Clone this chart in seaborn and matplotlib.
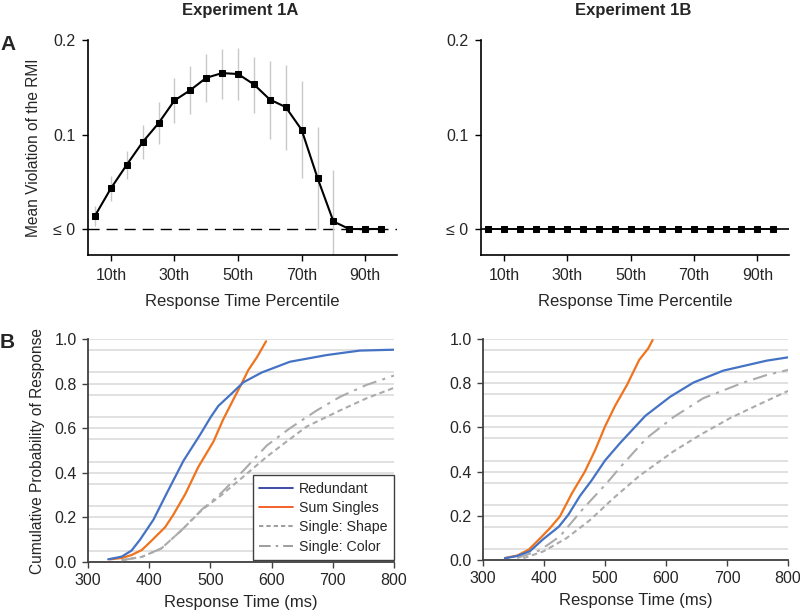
import numpy as np
import pandas as pd
import matplotlib
matplotlib.use("Agg")
import matplotlib.pyplot as plt
import seaborn as sns
from matplotlib.lines import Line2D

# ---------------- data ----------------
percentiles = [5, 10, 15, 20, 25, 30, 35, 40, 45, 50, 55, 60, 65, 70, 75, 80, 85, 90, 95]
rmi_1a = [0.014, 0.043, 0.068, 0.092, 0.112, 0.136, 0.147, 0.160, 0.165, 0.164,
          0.153, 0.137, 0.129, 0.105, 0.054, 0.008, 0.0, 0.0, 0.0]
rmi_1a_lo = [0.003, 0.030, 0.053, 0.074, 0.090, 0.112, 0.122, 0.134, 0.138, 0.136,
             0.123, 0.095, 0.084, 0.054, 0.0, -0.03, 0.0, 0.0, 0.0]
rmi_1a_hi = [0.024, 0.056, 0.083, 0.110, 0.134, 0.160, 0.172, 0.185, 0.191, 0.192,
             0.182, 0.178, 0.174, 0.157, 0.108, 0.062, 0.0, 0.0, 0.0]
rmi_1b = [0.0] * 19
pct_ticks = [10, 30, 50, 70, 90]
pct_labels = ["10th", "30th", "50th", "70th", "90th"]
rmi_ticks = [0.0, 0.1, 0.2]
rmi_labels = ["\u2264 0", "0.1", "0.2"]

# Experiment 1A CDFs
red_a_rt = [333, 355, 371, 385, 407, 429, 456, 483, 501, 513, 535, 554, 584, 630, 690, 744, 800]
red_a_p = [0.012, 0.024, 0.051, 0.10, 0.19, 0.31, 0.454, 0.57, 0.652, 0.70, 0.756, 0.806,
           0.85, 0.898, 0.928, 0.948, 0.952]
sum_a_rt = [336, 355, 371, 388, 404, 426, 439, 459, 480, 505, 521, 537, 551, 562, 576, 591]
sum_a_p = [0.012, 0.018, 0.031, 0.054, 0.096, 0.156, 0.21, 0.305, 0.425, 0.54, 0.64, 0.726,
           0.80, 0.861, 0.918, 0.99]
shape_a_rt = [355, 388, 420, 453, 486, 518, 557, 592, 622, 657, 712, 755, 800]
shape_a_p = [0.008, 0.023, 0.061, 0.143, 0.233, 0.30, 0.39, 0.472, 0.535, 0.607, 0.68, 0.734, 0.781]
color_a_rt = [355, 388, 420, 453, 486, 518, 554, 592, 630, 674, 712, 755, 800]
color_a_p = [0.008, 0.023, 0.061, 0.143, 0.235, 0.31, 0.41, 0.522, 0.60, 0.68, 0.741, 0.794, 0.836]

# Experiment 1B CDFs
red_b_rt = [336, 356, 377, 399, 424, 440, 459, 478, 500, 525, 566, 607, 645, 694, 765, 800]
red_b_p = [0.008, 0.018, 0.04, 0.095, 0.15, 0.205, 0.29, 0.36, 0.45, 0.53, 0.652, 0.739,
           0.803, 0.857, 0.902, 0.917]
sum_b_rt = [336, 356, 375, 394, 410, 426, 446, 467, 484, 500, 517, 536, 556, 571, 578]
sum_b_p = [0.009, 0.02, 0.047, 0.099, 0.145, 0.197, 0.303, 0.40, 0.498, 0.604, 0.70, 0.792,
           0.905, 0.958, 0.995]
shape_b_rt = [366, 399, 437, 476, 514, 556, 612, 656, 705, 754, 800]
shape_b_p = [0.008, 0.039, 0.099, 0.182, 0.28, 0.38, 0.491, 0.566, 0.642, 0.706, 0.765]
color_b_rt = [356, 394, 426, 465, 503, 525, 568, 612, 661, 727, 765, 800]
color_b_p = [0.009, 0.045, 0.107, 0.235, 0.348, 0.42, 0.551, 0.646, 0.732, 0.803, 0.837, 0.86]

legend_labels = ["Redundant", "Sum Singles", "Single: Shape", "Single: Color"]

# ---------------- style ----------------
sns.set_style("ticks")
plt.rcParams["font.family"] = ["Liberation Sans", "DejaVu Sans"]
plt.rcParams["font.size"] = 11

BLUE = "#4472C4"
ORANGE = "#F0731E"
GREY = "#ABABAB"
SPINE = "#404040"
TICK_FS = 11.5
LABEL_FS = 12
YLABEL_FS = 11.2

fig = plt.figure(figsize=(8.0, 6.16), dpi=100)
W, H = 800.0, 616.0


def axes_px(l, t, r, b):
    return fig.add_axes([l / W, 1 - b / H, (r - l) / W, (b - t) / H])


ax_a = axes_px(88, 40, 397, 255)
ax_b = axes_px(481, 40, 789, 255)
ax_c = axes_px(88, 339, 394, 562)
ax_d = axes_px(483, 339, 788, 560)

# ---------------- top panels ----------------
def style_top(ax):
    ax.set_xlim(2.8, 100)
    ax.set_ylim(-0.0275, 0.2)
    ax.set_xticks(pct_ticks)
    ax.set_xticklabels(pct_labels)
    ax.set_yticks(rmi_ticks)
    ax.set_yticklabels(rmi_labels)
    for s in ["top", "right"]:
        ax.spines[s].set_visible(False)
    for s in ["left", "bottom"]:
        ax.spines[s].set_color("black")
        ax.spines[s].set_linewidth(1.2)
    ax.tick_params(direction="out", length=4, width=1.0, color="black",
                   labelsize=TICK_FS, pad=5)
    ax.set_xlabel("Response Time Percentile", fontsize=LABEL_FS, labelpad=8)


style_top(ax_a)
ax_a.axhline(0, color="black", lw=1.0, ls=(0, (8, 5)), zorder=1)
ax_a.vlines(percentiles, rmi_1a_lo, rmi_1a_hi, color="#C8C8C8", lw=1.0, zorder=2)
sns.lineplot(x=percentiles, y=rmi_1a, ax=ax_a, color="black", lw=1.5,
             marker="s", markersize=4.2, markeredgecolor="black", zorder=3)
ax_a.set_ylabel("Mean Violation of the RMI", fontsize=YLABEL_FS, labelpad=9)

style_top(ax_b)
ax_b.axhline(0, color="black", lw=1.2, zorder=1)
sns.lineplot(x=percentiles, y=rmi_1b, ax=ax_b, color="black", lw=1.2,
             marker="s", markersize=4.2, markeredgecolor="black", zorder=3)
ax_b.set_ylabel("")

# ---------------- bottom panels ----------------
def style_bottom(ax):
    ax.set_xlim(300, 800)
    ax.set_ylim(0, 1.0)
    ax.set_xticks([300, 400, 500, 600, 700, 800])
    ax.set_yticks([0.0, 0.2, 0.4, 0.6, 0.8, 1.0])
    ax.set_yticklabels(["0.0", "0.2", "0.4", "0.6", "0.8", "1.0"])
    ax.set_yticks(np.arange(0.05, 1.0, 0.1), minor=True)
    ax.grid(True, axis="y", which="both", color="#D9D9D9", lw=1.1)
    ax.set_axisbelow(True)
    for s in ["top", "right"]:
        ax.spines[s].set_visible(False)
    for s in ["left", "bottom"]:
        ax.spines[s].set_color(SPINE)
        ax.spines[s].set_linewidth(1.3)
    ax.tick_params(which="major", direction="out", length=4, width=1.0, color=SPINE,
                   labelsize=TICK_FS, pad=4)
    ax.tick_params(which="minor", length=0)
    ax.set_xlabel("Response Time (ms)", fontsize=LABEL_FS, labelpad=5)


def draw_cdfs(ax, red, sm, shp, col):
    sns.lineplot(x=shp[0], y=shp[1], ax=ax, sort=False, color=GREY, lw=1.5,
                 ls=(0, (2.6, 1.8)), zorder=3)
    sns.lineplot(x=col[0], y=col[1], ax=ax, sort=False, color=GREY, lw=1.5,
                 ls=(0, (7, 3, 1.5, 3)), zorder=3)
    sns.lineplot(x=sm[0], y=sm[1], ax=ax, sort=False, color=ORANGE, lw=1.6, zorder=4)
    sns.lineplot(x=red[0], y=red[1], ax=ax, sort=False, color=BLUE, lw=1.6, zorder=5)


style_bottom(ax_c)
draw_cdfs(ax_c, (red_a_rt, red_a_p), (sum_a_rt, sum_a_p),
          (shape_a_rt, shape_a_p), (color_a_rt, color_a_p))
ax_c.set_ylabel("Cumulative Probability of Response", fontsize=YLABEL_FS, labelpad=7)

handles = [
    Line2D([0], [0], color="#2E3F9E", lw=1.3),
    Line2D([0], [0], color="#F2541B", lw=1.3),
    Line2D([0], [0], color="#8C8C8C", lw=1.2, ls=(0, (2.6, 1.8))),
    Line2D([0], [0], color="#8C8C8C", lw=1.2, ls=(0, (7, 3, 1.5, 3))),
]
leg = ax_c.legend(handles, legend_labels, loc="lower right", bbox_to_anchor=(1.0, 0.008),
                  frameon=True, fancybox=False, edgecolor=SPINE, facecolor="white",
                  framealpha=1, fontsize=10.2, handlelength=2.4, handletextpad=0.4,
                  labelspacing=0.38, borderpad=0.45, borderaxespad=0)
leg.get_frame().set_linewidth(1.0)

style_bottom(ax_d)
draw_cdfs(ax_d, (red_b_rt, red_b_p), (sum_b_rt, sum_b_p),
          (shape_b_rt, shape_b_p), (color_b_rt, color_b_p))
ax_d.set_ylabel("")
if ax_d.get_legend() is not None:
    ax_d.get_legend().remove()

# ---------------- titles and panel letters ----------------
fig.text(240 / W, 1 - 11 / H, "Experiment 1A", ha="center", va="center",
         fontsize=12, fontweight="bold")
fig.text(633 / W, 1 - 11 / H, "Experiment 1B", ha="center", va="center",
         fontsize=12, fontweight="bold")
fig.text(0 / W, 1 - 45 / H, "A", ha="left", va="center", fontsize=15, fontweight="bold")
fig.text(0 / W, 1 - 342 / H, "B", ha="left", va="center", fontsize=15, fontweight="bold")

fig.savefig("out.png", dpi=100)
